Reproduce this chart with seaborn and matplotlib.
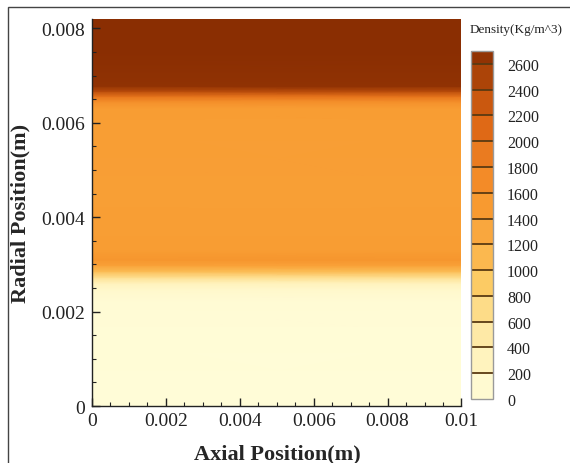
import matplotlib
matplotlib.use("Agg")
import matplotlib.pyplot as plt
import matplotlib.colors as mcolors
import matplotlib.patches as mpatches
from matplotlib.cm import ScalarMappable
from matplotlib.ticker import MultipleLocator
import seaborn as sns
import numpy as np

# radial density profile (uniform along the axial direction)
radial_pos = [0.0, 0.0015, 0.0022, 0.00245, 0.0026, 0.00272, 0.00285, 0.00298,
              0.0031, 0.0033, 0.0045, 0.0060, 0.0063, 0.00645, 0.00656,
              0.00667, 0.00678, 0.0075, 0.0082]
density = [40, 45, 70, 150, 320, 650, 1050, 1400,
           1560, 1460, 1430, 1440, 1460, 1650, 2000,
           2450, 2660, 2690, 2700]
axial_pos = [0.0, 0.01]

cbar_levels = [0, 200, 400, 600, 800, 1000, 1200, 1400, 1600, 1800, 2000,
               2200, 2400, 2600, 2700]
cbar_ticks = [0, 200, 400, 600, 800, 1000, 1200, 1400, 1600, 1800, 2000,
              2200, 2400, 2600]
x_ticks = [0, 0.002, 0.004, 0.006, 0.008, 0.01]
x_ticklabels = ["0", "0.002", "0.004", "0.006", "0.008", "0.01"]
y_ticks = [0, 0.002, 0.004, 0.006, 0.008]
y_ticklabels = ["0", "0.002", "0.004", "0.006", "0.008"]

sns.set_theme(style="white")
plt.rcParams["font.family"] = ["Liberation Serif", "DejaVu Serif"]
plt.rcParams["xtick.direction"] = "in"
plt.rcParams["ytick.direction"] = "in"
plt.rcParams["xtick.bottom"] = True
plt.rcParams["ytick.left"] = True
plt.rcParams["axes.axisbelow"] = False

# palette anchors at 0, 300, ..., 2700
anchors = ["#FFFDDA", "#FFF3BE", "#FEE49A", "#FCCB64", "#FAAE45",
           "#F89A30", "#F08425", "#E06A16", "#C0500C", "#8A2E02"]
cmap = sns.blend_palette(anchors, as_cmap=True)
vmin, vmax = 0, 2700

fig = plt.figure(figsize=(5.70, 4.64), dpi=100)
ax = fig.add_axes([0.1614, 0.1228, 0.6482, 0.8341])

X, Y = np.meshgrid(axial_pos, radial_pos)
C = np.tile(np.array(density, dtype=float)[:, None], (1, len(axial_pos)))
ax.pcolormesh(X, Y, C, cmap=cmap, vmin=vmin, vmax=vmax, shading="gouraud", zorder=0)

ax.set_xlim(0, 0.01)
ax.set_ylim(0, 0.0082)
ax.set_xticks(x_ticks)
ax.set_xticklabels(x_ticklabels)
ax.set_yticks(y_ticks)
ax.set_yticklabels(y_ticklabels)
ax.xaxis.set_minor_locator(MultipleLocator(0.0005))
ax.yaxis.set_minor_locator(MultipleLocator(0.0005))
ax.tick_params(which="major", direction="in", length=6, width=1, color="#222222",
               labelsize=14, labelcolor="#222222")
ax.tick_params(which="minor", direction="in", length=3, width=0.8, color="#222222")
ax.tick_params(axis="y", which="major", pad=5)
ax.tick_params(axis="x", which="major", pad=4)
for side in ["top", "right"]:
    ax.spines[side].set_visible(False)
for side in ["left", "bottom"]:
    ax.spines[side].set_color("#222222")
    ax.spines[side].set_linewidth(1)

ax.set_ylabel("Radial Position(m)", fontsize=16, fontweight="bold", labelpad=8)
fig.text(277 / 570, 5 / 464, "Axial Position(m)", fontsize=16, fontweight="bold",
         ha="center", va="baseline")

# discrete colorbar
mids = [(a + b) / 2 for a, b in zip(cbar_levels[:-1], cbar_levels[1:])]
band_colors = [cmap((m - vmin) / (vmax - vmin)) for m in mids]
lcmap = mcolors.ListedColormap(band_colors)
norm = mcolors.BoundaryNorm(cbar_levels, lcmap.N)
cax = fig.add_axes([0.8263, 0.1379, 0.0386, 0.75])
cb = fig.colorbar(ScalarMappable(norm=norm, cmap=lcmap), cax=cax,
                  spacing="proportional", drawedges=True, ticks=cbar_ticks)
cb.dividers.set_color("#5a3a12")
cb.dividers.set_linewidth(1.3)
cb.outline.set_edgecolor("#9a9a9a")
cb.outline.set_linewidth(1)
cax.minorticks_off()
cax.tick_params(length=0, pad=10, labelsize=11.5, labelcolor="#222222")
fig.text(470 / 570, 1 - 30 / 464, "Density(Kg/m^3)", fontsize=9.5,
         ha="left", va="center", color="#222222")

# outer frame of the figure
frame = mpatches.Rectangle((8 / 570, -0.1), 1.2, 1.1 - 8 / 464,
                           transform=fig.transFigure, fill=False,
                           edgecolor="#444444", linewidth=1)
fig.patches.append(frame)

fig.savefig("out.png", dpi=100)
